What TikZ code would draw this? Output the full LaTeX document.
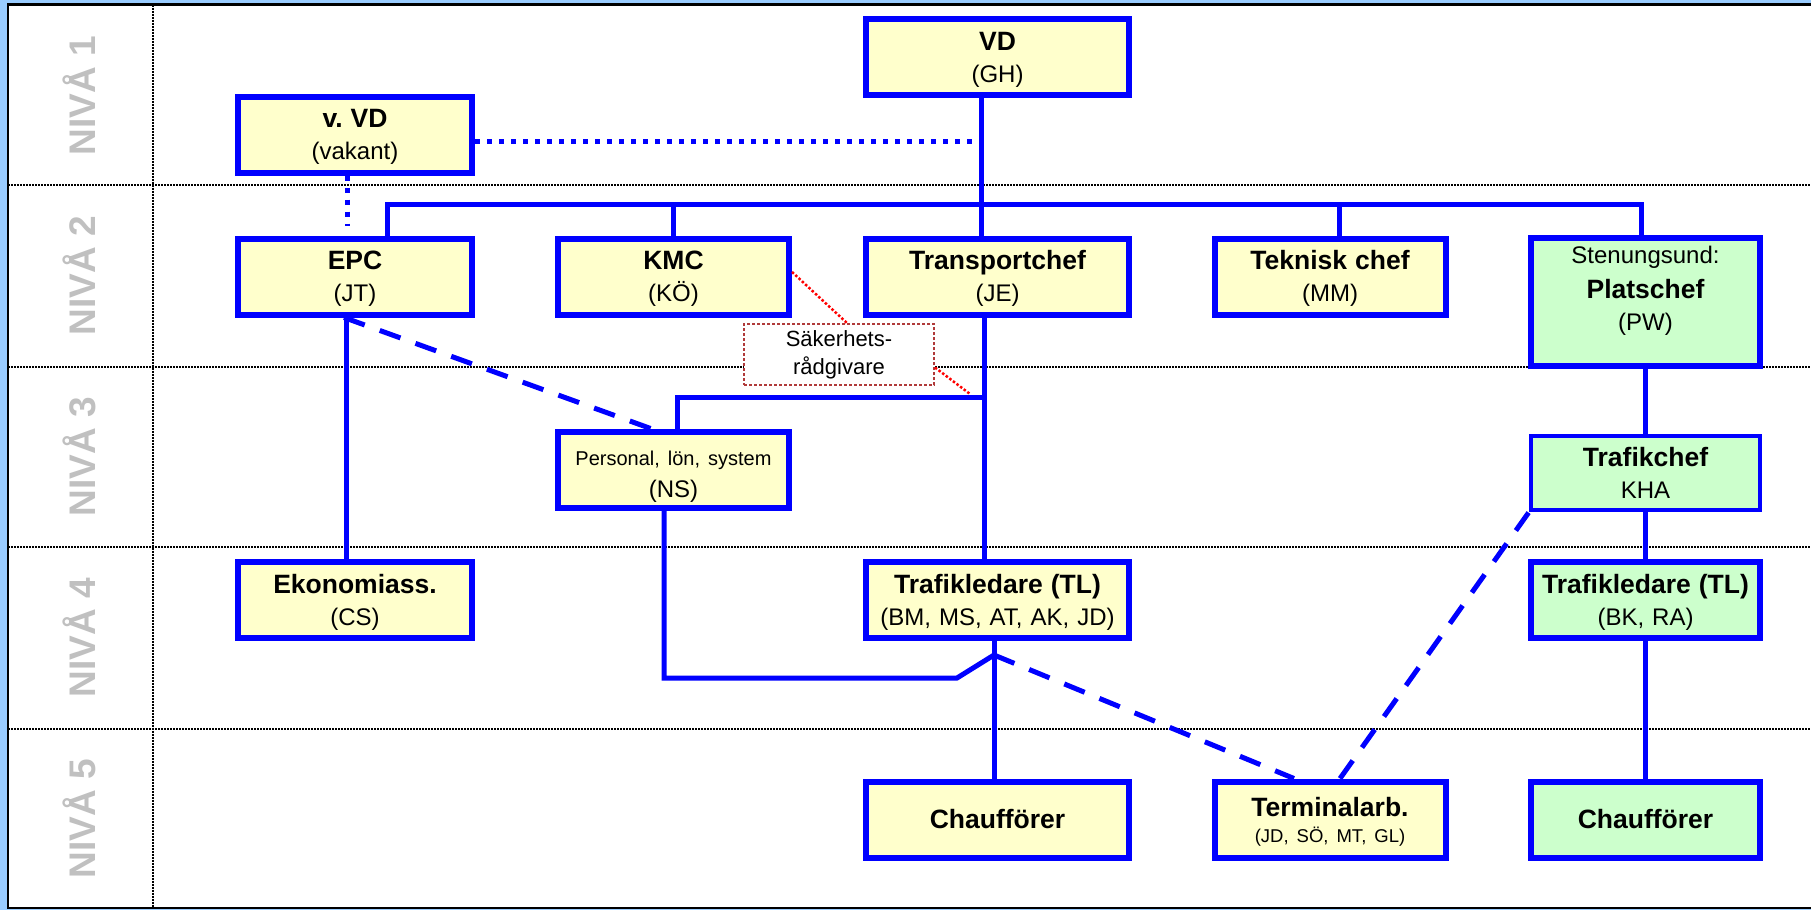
\documentclass[tikz,border=0pt]{standalone}
\usepackage{fontspec}
\setmainfont{Liberation Sans}
\usepackage{tikz}
\usetikzlibrary{positioning}
\frenchspacing
\definecolor{boxyellow}{HTML}{FFFFCC}
\definecolor{boxgreen}{HTML}{CCFFCC}
\definecolor{framebg}{HTML}{99CCFF}
\definecolor{levelgray}{HTML}{C0C0C0}
\definecolor{notered}{HTML}{B03A3A}
\newcommand{\boxtitle}[1]{{\fontsize{26.5}{32}\selectfont\bfseries\rule{0pt}{23pt}#1}}
\tikzstyle{block} = [rectangle, draw=blue, line width=6pt, fill=boxyellow, 
    text width=231pt, text centered, minimum height=76pt, inner sep=0pt,
    font=\fontsize{24}{32}\selectfont]
\tikzstyle{greenblock} = [block, fill=boxgreen]
\tikzstyle{note} = [rectangle, draw=notered, line width=2pt, dash pattern=on 3pt off 2pt,
    fill=white, text width=190pt, text centered, minimum height=61pt, inner sep=0pt,
    font=\fontsize{22}{28}\selectfont]
\tikzstyle{levellabel} = [rotate=90, text=levelgray, font=\bfseries\fontsize{37}{40}\selectfont]
\tikzstyle{levelline} = [draw=black, line width=2.5pt, dash pattern=on 2pt off 1pt]
\tikzstyle{line} = [draw=blue, line width=5pt]
\tikzstyle{dashline} = [line, dash pattern=on 22pt off 16pt]
\tikzstyle{dotline} = [line, dash pattern=on 5pt off 7pt]
\tikzstyle{redline} = [draw=red, line width=2.5pt, dash pattern=on 2.5pt off 2pt]

\begin{document}
\begin{tikzpicture}[node distance = 320pt, auto, x=1pt, y=-1pt]
    % frame and levels
    \useasboundingbox (0,0) rectangle (1811,910);
    \fill [framebg] (0,0) rectangle (1811,910);
    \fill [white] (8,4.5) rectangle (1811,908);
    \draw [black, line width=2.5pt] (1811,4.5) -- (8,4.5) -- (8,908) -- (1811,908);
    \path [levelline] (153,4.5) -- (153,908);
    \path [levelline] (8,185) -- (1811,185);
    \path [levelline] (8,367) -- (1811,367);
    \path [levelline] (8,547) -- (1811,547);
    \path [levelline] (8,729) -- (1811,729);
    \node [levellabel] (niva1) at (79,96) {NIVÅ 1};
    \node [levellabel] (niva2) at (79,276) {NIVÅ 2};
    \node [levellabel] (niva3) at (79,457) {NIVÅ 3};
    \node [levellabel] (niva4) at (79,638) {NIVÅ 4};
    \node [levellabel] (niva5) at (79,819) {NIVÅ 5};
    % Place nodes
    \node [block, text width=263pt] (vd) at (997.5,57) {\boxtitle{VD}\\ (GH)};
    \node [block, text width=263pt, below of=vd, node distance=219.5pt] (tchef) {\boxtitle{Transportchef}\\ (JE)};
    \node [block, left of=tchef, node distance=324pt] (kmc) {\boxtitle{KMC}\\ (KÖ)};
    \node [block, text width=234pt, left of=kmc, node distance=318.5pt] (epc) {\boxtitle{EPC}\\ (JT)};
    \node [block, text width=234pt, above of=epc, node distance=142pt] (vvd) {\boxtitle{v. VD}\\ (vakant)};
    \node [block, right of=tchef, node distance=332.5pt] (tekn) {\boxtitle{Teknisk chef}\\ (MM)};
    \node [greenblock, text width=229pt, minimum height=128pt, right of=tekn, node distance=315.5pt, yshift=-25.5pt] (plats) {Stenungsund:\\[3pt] \boxtitle{Platschef}\\ (PW)\\[-4pt] \mbox{}};
    \node [block, below of=kmc, node distance=193.5pt] (pers) {\rule{0pt}{27pt}{\fontsize{20}{32}\selectfont Personal, lön, system}\\ (NS)};
    \node [note, below of=kmc, node distance=78pt, xshift=165.5pt] (saker) {Säkerhets-\\ rådgivare};
    \node [greenblock, line width=4pt, text width=229pt, minimum height=74pt, below of=plats, node distance=171pt] (trchef) {\boxtitle{Trafikchef}\\ KHA\rule[-5pt]{0pt}{5pt}};
    \node [block, text width=234pt, below of=epc, node distance=323.5pt] (ekon) {\boxtitle{Ekonomiass.}\\ (CS)};
    \node [block, text width=263pt, below of=tchef, node distance=323.5pt] (tlmid) {\boxtitle{Trafikledare (TL)}\\ (BM, MS, AT, AK, JD)};
    \node [greenblock, text width=229pt, below of=trchef, node distance=127pt] (tlright) {\boxtitle{Trafikledare (TL)}\\ (BK, RA)};
    \node [block, text width=263pt, below of=tlmid, node distance=219.5pt] (chmid) {{\fontsize{26.5}{32}\selectfont\bfseries Chaufförer}};
    \node [block, right of=chmid, node distance=332.5pt] (term) {\boxtitle{Terminalarb.}\\[-6pt] {\fontsize{18.5}{26}\selectfont (JD, SÖ, MT, GL)}};
    \node [greenblock, text width=229pt, right of=term, node distance=315.5pt] (chright) {{\fontsize{26.5}{32}\selectfont\bfseries Chaufförer}};
    % lines
    \coordinate (vdjoin) at (981,141);
    \coordinate (busl) at (387,204);
    \coordinate (busr) at (1641,204);
    \coordinate (vvdend) at (347,226);
    \coordinate (branch) at (984,397);
    \coordinate (kink) at (957,678);
    \coordinate (join) at (994,655);
    \coordinate (redend) at (970,394);
    \path [line] (vd.south -| vdjoin) -- (tchef.north -| vdjoin);
    \path [line] (epc.north -| busl) -- (busl) -- (busr) -- (plats.north -| busr);
    \path [line] (kmc.north) -- (kmc.north |- busl);
    \path [line] ([xshift=9pt]tekn.north) -- ([xshift=9pt]tekn.north |- busl);
    \path [dotline] ([yshift=-6.5pt]vvd.east) -- (vdjoin);
    \path [dotline] (vvd.south -| vvdend) -- (vvdend);
    \path [line] ([xshift=-9pt]epc.south) -- ([xshift=-9pt]ekon.north);
    \path [dashline] ([xshift=-11pt]epc.south) -- ([xshift=-21.5pt]pers.north);
    \path [line] ([xshift=-13.5pt]tchef.south) -- ([xshift=-13.5pt]tlmid.north);
    \path [line] (branch) -| ([xshift=3.5pt]pers.north);
    \path [line] ([xshift=-9.5pt]pers.south) |- (kink) -- (join);
    \path [line] ([xshift=-3.5pt]tlmid.south) -- ([xshift=-3.5pt]chmid.north);
    \path [dashline] (join) -- ([xshift=-36pt]term.north);
    \path [dashline] ([xshift=10pt]term.north) -- (trchef.south west);
    \path [line] (plats.south) -- (trchef.north);
    \path [line] (trchef.south) -- (tlright.north);
    \path [line] (tlright.south) -- (chright.north);
    \path [redline] ([yshift=4.5pt]kmc.east) -- ([xshift=8pt]saker.north);
    \path [redline] ([yshift=-13pt]saker.east) -- (redend);

\end{tikzpicture}
\end{document}
